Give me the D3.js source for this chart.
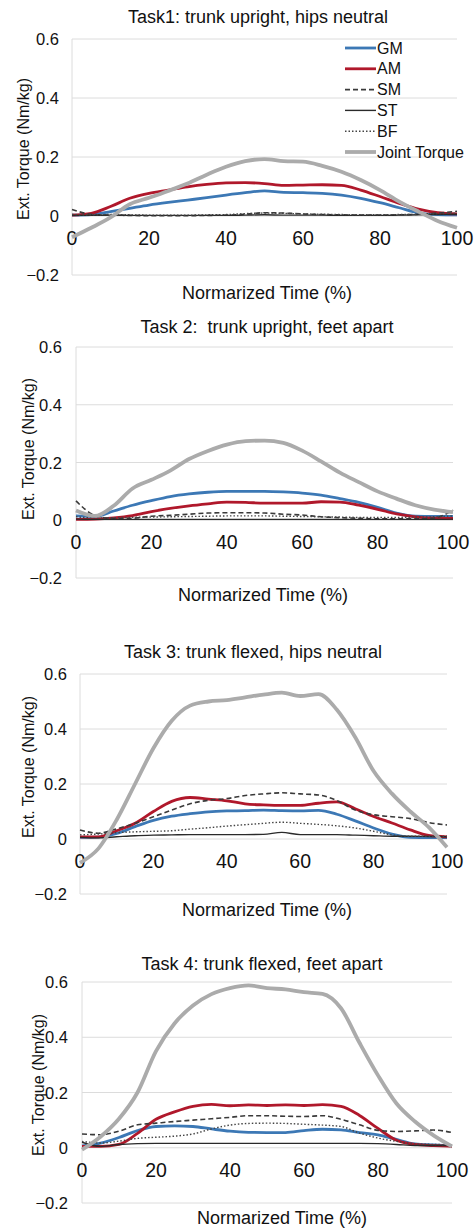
<!DOCTYPE html>
<html>
<head>
  <meta charset="utf-8">
  <title>Ext. Torque by task</title>
  <style type="text/css">
    body { margin: 0; background: #fff; }
    svg { display: block; font-family: "Liberation Sans", Arial, Helvetica, sans-serif; }
    .grid line { stroke: #dcdcdc; stroke-width: 1px; }
    .title { font-size: 18px; fill: #111; white-space: pre; }
    .xtick { font-size: 19.5px; fill: #111; }
    .ytick { font-size: 16.5px; fill: #111; }
    .xtitle { font-size: 18px; fill: #111; }
    .ytitle { font-size: 16px; fill: #111; }
    .legend text { font-size: 16px; fill: #111; }
  </style>
  <script src="https://cdn.jsdelivr.net/npm/d3@7"></script>
</head>
<body>
<script>
  // normalised time (%) and series names
  var time = [0, 5, 10, 15, 20, 25, 30, 35, 40, 45, 50, 55, 60, 65, 70, 75, 80, 85, 90, 95, 100];
  var seriesNames = ["GM", "AM", "SM", "ST", "BF", "Joint Torque"];
  var taskTitles = ["Task1: trunk upright, hips neutral", "Task 2:  trunk upright, feet apart",
    "Task 3: trunk flexed, hips neutral", "Task 4: trunk flexed, feet apart"];
  var xTicks = [0, 20, 40, 60, 80, 100];
  var yTicks = [-0.2, 0, 0.2, 0.4, 0.6];

  // Task 1
  var t1GM = [0.003, 0.005, 0.015, 0.026, 0.037, 0.046, 0.054, 0.062, 0.071, 0.079, 0.085, 0.080, 0.079, 0.077, 0.071, 0.060, 0.045, 0.028, 0.011, 0.005, 0.004];
  var t1AM = [0.003, 0.009, 0.032, 0.060, 0.077, 0.088, 0.099, 0.107, 0.112, 0.113, 0.110, 0.104, 0.105, 0.106, 0.104, 0.088, 0.066, 0.043, 0.023, 0.011, 0.007];
  var t1SM = [0.022, 0.006, 0.003, 0.002, 0.001, 0.001, 0.001, 0.002, 0.003, 0.006, 0.011, 0.010, 0.007, 0.005, 0.004, 0.003, 0.003, 0.004, 0.006, 0.010, 0.016];
  var t1ST = [0.002, 0.002, 0.003, 0.002, 0.002, 0.002, 0.002, 0.002, 0.002, 0.003, 0.004, 0.003, 0.003, 0.003, 0.002, 0.002, 0.002, 0.003, 0.004, 0.005, 0.006];
  var t1BF = [0.005, 0.004, 0.005, 0.004, 0.003, 0.003, 0.003, 0.004, 0.005, 0.008, 0.010, 0.009, 0.007, 0.006, 0.005, 0.004, 0.004, 0.005, 0.006, 0.008, 0.010];
  var t1JT = [-0.072, -0.040, -0.005, 0.040, 0.062, 0.085, 0.110, 0.140, 0.167, 0.186, 0.193, 0.186, 0.184, 0.170, 0.150, 0.122, 0.088, 0.049, 0.015, -0.017, -0.040];

  // Task 2
  var t2GM = [0.015, 0.013, 0.032, 0.052, 0.068, 0.082, 0.091, 0.097, 0.100, 0.100, 0.100, 0.098, 0.094, 0.087, 0.075, 0.062, 0.045, 0.025, 0.014, 0.013, 0.013];
  var t2AM = [0.003, 0.004, 0.008, 0.016, 0.030, 0.041, 0.050, 0.057, 0.063, 0.062, 0.059, 0.059, 0.059, 0.064, 0.063, 0.052, 0.038, 0.022, 0.012, 0.007, 0.006];
  var t2SM = [0.067, 0.017, 0.006, 0.007, 0.014, 0.017, 0.021, 0.025, 0.026, 0.026, 0.025, 0.021, 0.018, 0.012, 0.009, 0.007, 0.005, 0.005, 0.005, 0.008, 0.035];
  var t2ST = [0.004, 0.003, 0.003, 0.003, 0.003, 0.003, 0.003, 0.003, 0.003, 0.003, 0.003, 0.003, 0.003, 0.003, 0.003, 0.003, 0.003, 0.003, 0.003, 0.003, 0.004];
  var t2BF = [0.012, 0.008, 0.009, 0.010, 0.011, 0.012, 0.013, 0.014, 0.015, 0.015, 0.015, 0.014, 0.013, 0.012, 0.011, 0.010, 0.010, 0.010, 0.011, 0.012, 0.015];
  var t2JT = [0.034, 0.015, 0.050, 0.110, 0.140, 0.172, 0.212, 0.240, 0.262, 0.274, 0.276, 0.268, 0.241, 0.204, 0.165, 0.132, 0.100, 0.075, 0.052, 0.037, 0.028];

  // Task 3
  var t3GM = [0.006, 0.007, 0.020, 0.045, 0.068, 0.083, 0.092, 0.099, 0.102, 0.103, 0.105, 0.103, 0.102, 0.104, 0.090, 0.066, 0.040, 0.018, 0.006, 0.005, 0.005];
  var t3AM = [0.008, 0.008, 0.030, 0.057, 0.100, 0.137, 0.151, 0.145, 0.139, 0.128, 0.124, 0.122, 0.122, 0.130, 0.135, 0.110, 0.082, 0.058, 0.033, 0.013, 0.008];
  var t3SM = [0.033, 0.021, 0.037, 0.057, 0.081, 0.105, 0.128, 0.141, 0.147, 0.158, 0.164, 0.168, 0.164, 0.160, 0.140, 0.105, 0.088, 0.081, 0.074, 0.060, 0.051];
  var t3ST = [0.006, 0.004, 0.008, 0.012, 0.014, 0.015, 0.016, 0.016, 0.016, 0.016, 0.017, 0.024, 0.016, 0.016, 0.016, 0.014, 0.012, 0.010, 0.010, 0.009, 0.008];
  var t3BF = [0.015, 0.018, 0.023, 0.026, 0.028, 0.030, 0.036, 0.041, 0.047, 0.052, 0.057, 0.061, 0.057, 0.053, 0.048, 0.040, 0.028, 0.015, 0.010, 0.010, 0.010];
  var t3JT = [-0.087, -0.035, 0.070, 0.200, 0.330, 0.430, 0.485, 0.500, 0.505, 0.515, 0.525, 0.532, 0.520, 0.527, 0.470, 0.370, 0.247, 0.165, 0.100, 0.043, -0.030];

  // Task 4
  var t4GM = [0.007, 0.017, 0.037, 0.062, 0.077, 0.079, 0.077, 0.068, 0.060, 0.056, 0.055, 0.055, 0.062, 0.067, 0.065, 0.055, 0.047, 0.030, 0.014, 0.010, 0.007];
  var t4AM = [0.005, 0.005, 0.012, 0.052, 0.103, 0.130, 0.150, 0.157, 0.152, 0.155, 0.153, 0.155, 0.153, 0.156, 0.150, 0.117, 0.070, 0.027, 0.012, 0.008, 0.005];
  var t4SM = [0.050, 0.047, 0.060, 0.083, 0.089, 0.095, 0.100, 0.105, 0.110, 0.116, 0.116, 0.114, 0.113, 0.116, 0.103, 0.083, 0.063, 0.059, 0.061, 0.064, 0.055];
  var t4ST = [0.020, 0.005, 0.012, 0.015, 0.016, 0.016, 0.016, 0.016, 0.016, 0.016, 0.016, 0.016, 0.016, 0.016, 0.016, 0.016, 0.015, 0.012, 0.008, 0.008, 0.008];
  var t4BF = [0.023, 0.017, 0.024, 0.034, 0.038, 0.042, 0.050, 0.068, 0.082, 0.088, 0.089, 0.088, 0.085, 0.082, 0.077, 0.053, 0.035, 0.023, 0.014, 0.012, 0.011];
  var t4JT = [-0.007, 0.040, 0.105, 0.200, 0.350, 0.450, 0.515, 0.556, 0.578, 0.588, 0.578, 0.573, 0.563, 0.557, 0.505, 0.380, 0.262, 0.160, 0.095, 0.045, 0.005];

  var tasks = [
    [t1GM, t1AM, t1SM, t1ST, t1BF, t1JT],
    [t2GM, t2AM, t2SM, t2ST, t2BF, t2JT],
    [t3GM, t3AM, t3SM, t3ST, t3BF, t3JT],
    [t4GM, t4AM, t4SM, t4ST, t4BF, t4JT]
  ];

  // line styles per series
  var styles = [
    { color: "#3c78b5", width: 2.8, dash: null },
    { color: "#b0182b", width: 2.8, dash: null },
    { color: "#3a3a3a", width: 1.6, dash: "5,3" },
    { color: "#2a2a2a", width: 1.4, dash: null },
    { color: "#444", width: 1.4, dash: "1.5,2" },
    { color: "#ababab", width: 3.8, dash: null }
  ];

  // where each panel sits on the page
  var panels = [
    { left: 72, right: 457, top: 39, bottom: 275, titleX: 258, titleY: 23, xTitleX: 267, xTitleY: 299, yTitleX: 23, yTitleY: 149, tickR: 59 },
    { left: 76, right: 453, top: 347, bottom: 578, titleX: 267, titleY: 333, xTitleX: 263, xTitleY: 601, yTitleX: 28, yTitleY: 449, tickR: 62 },
    { left: 80, right: 447, top: 674, bottom: 894, titleX: 253, titleY: 658, xTitleX: 267, xTitleY: 916, yTitleX: 28, yTitleY: 767, tickR: 67 },
    { left: 82, right: 452, top: 982, bottom: 1203, titleX: 262, titleY: 970, xTitleX: 282, xTitleY: 1224, yTitleX: 38, yTitleY: 1085, tickR: 68 }
  ];

  var svg = d3.select("body").append("svg")
    .attr("width", 476)
    .attr("height", 1229);

  panels.forEach(function (p, i) {
    var x = d3.scaleLinear().domain([0, 100]).range([p.left, p.right]);
    var y = d3.scaleLinear().domain([-0.2, 0.6]).range([p.bottom, p.top]);
    var g = svg.append("g");

    // gridlines and vertical axis
    var grid = g.append("g").attr("class", "grid");
    grid.selectAll("line.h").data(yTicks).enter().append("line")
      .attr("x1", p.left).attr("x2", p.right)
      .attr("y1", function (d) { return y(d); })
      .attr("y2", function (d) { return y(d); });
    grid.append("line")
      .attr("x1", p.left).attr("x2", p.left)
      .attr("y1", p.top).attr("y2", p.bottom);

    g.selectAll("text.ytick").data(yTicks).enter().append("text")
      .attr("class", "ytick")
      .attr("x", p.tickR)
      .attr("y", function (d) { return y(d) + 6; })
      .attr("text-anchor", "end")
      .text(function (d) { return d === 0 ? "0" : d3.format(".1f")(d); });

    g.selectAll("text.xtick").data(xTicks).enter().append("text")
      .attr("class", "xtick")
      .attr("x", function (d) { return x(d); })
      .attr("y", y(0) + 29)
      .attr("text-anchor", "middle")
      .text(function (d) { return d; });

    // series
    var line = d3.line()
      .x(function (d, k) { return x(time[k]); })
      .y(function (d) { return y(d); })
      .curve(d3.curveMonotoneX);

    tasks[i].forEach(function (vals, s) {
      g.append("path")
        .attr("d", line(vals))
        .attr("fill", "none")
        .attr("stroke", styles[s].color)
        .attr("stroke-width", styles[s].width)
        .attr("stroke-dasharray", styles[s].dash)
        .attr("stroke-linejoin", "round");
    });

    g.append("text").attr("class", "title")
      .attr("x", p.titleX).attr("y", p.titleY)
      .attr("text-anchor", "middle")
      .text(taskTitles[i]);

    g.append("text").attr("class", "xtitle")
      .attr("x", p.xTitleX).attr("y", p.xTitleY)
      .attr("text-anchor", "middle")
      .text("Normarized Time (%)");

    g.append("text").attr("class", "ytitle")
      .attr("transform", "translate(" + (p.yTitleX + 6) + "," + p.yTitleY + ") rotate(-90)")
      .attr("text-anchor", "middle")
      .text("Ext. Torque (Nm/kg)");
  });

  // legend (first panel only)
  var legend = svg.append("g").attr("class", "legend");
  seriesNames.forEach(function (name, s) {
    var ly = 48 + s * 20.8;
    legend.append("line")
      .attr("x1", 345).attr("x2", 376)
      .attr("y1", ly).attr("y2", ly)
      .attr("stroke", styles[s].color)
      .attr("stroke-width", styles[s].width)
      .attr("stroke-dasharray", styles[s].dash);
    legend.append("text")
      .attr("x", 377).attr("y", ly + 5.5)
      .text(name);
  });
</script>
</body>
</html>
